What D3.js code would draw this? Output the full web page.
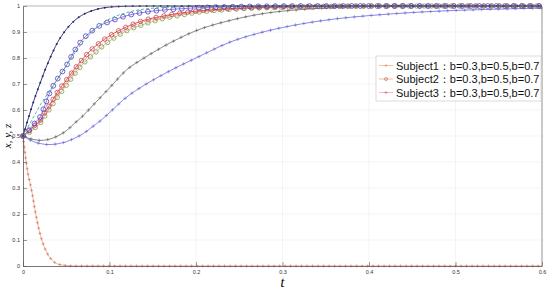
<!DOCTYPE html>
<html>
<head>
<meta charset="utf-8">
<script src="https://cdn.jsdelivr.net/npm/d3@7"></script>
<style>
  body { margin: 0; background: #fff; }
  svg { display: block; }
  .tick text { font-family: "Liberation Sans", Arial, sans-serif; font-size: 5.5px; fill: #333; }
</style>
</head>
<body>
<div id="chart"></div>
<script>
// 時間取樣點
const tGrid = [0, 0.005, 0.01, 0.015, 0.02, 0.025, 0.03, 0.04, 0.05, 0.06, 0.07, 0.08, 0.09, 0.1,
  0.12, 0.14, 0.16, 0.18, 0.2, 0.24, 0.28, 0.32, 0.36, 0.4, 0.45, 0.5, 0.55, 0.6];

// 各曲線數值
const navyDots = [0.5, 0.555, 0.61, 0.66, 0.705, 0.75, 0.79, 0.86, 0.91, 0.945, 0.968, 0.982, 0.991, 0.996,
  0.999, 1, 1, 1, 1, 1, 1, 1, 1, 1, 1, 1, 1, 1];
const greenDash = [0.5, 0.53, 0.56, 0.59, 0.62, 0.645, 0.67, 0.72, 0.77, 0.82, 0.865, 0.9, 0.93, 0.95,
  0.975, 0.988, 0.994, 0.997, 0.999, 1, 1, 1, 1, 1, 1, 1, 1, 1];
const purpleCircles = [0.5, 0.515, 0.535, 0.555, 0.575, 0.615, 0.66, 0.72, 0.77, 0.83, 0.875, 0.905, 0.927, 0.94,
  0.963, 0.976, 0.984, 0.989, 0.993, 0.997, 0.999, 1, 1, 1, 1, 1, 1, 1];
const redCircles = [0.5, 0.515, 0.53, 0.545, 0.56, 0.59, 0.615, 0.67, 0.715, 0.76, 0.8, 0.835, 0.862, 0.885,
  0.92, 0.945, 0.96, 0.972, 0.98, 0.99, 0.995, 0.997, 0.999, 1, 1, 1, 1, 1];
const pinkDash = [0.5, 0.512, 0.525, 0.54, 0.555, 0.58, 0.605, 0.66, 0.705, 0.75, 0.79, 0.82, 0.85, 0.875,
  0.912, 0.94, 0.955, 0.968, 0.978, 0.988, 0.994, 0.997, 0.999, 1, 1, 1, 1, 1];
const olveCircles = [0.5, 0.51, 0.52, 0.535, 0.55, 0.575, 0.6, 0.65, 0.695, 0.74, 0.78, 0.81, 0.84, 0.865,
  0.905, 0.93, 0.95, 0.963, 0.975, 0.987, 0.993, 0.996, 0.998, 1, 1, 1, 1, 1];
const grayPlus = [0.5, 0.493, 0.488, 0.485, 0.483, 0.484, 0.487, 0.5, 0.52, 0.55, 0.58, 0.615, 0.65, 0.685,
  0.755, 0.8, 0.84, 0.875, 0.905, 0.945, 0.972, 0.986, 0.994, 0.998, 1, 1, 1, 1];
const bluePlus = [0.5, 0.49, 0.482, 0.475, 0.471, 0.468, 0.467, 0.47, 0.478, 0.492, 0.51, 0.535, 0.56, 0.59,
  0.65, 0.695, 0.733, 0.768, 0.8, 0.862, 0.902, 0.93, 0.95, 0.963, 0.975, 0.983, 0.988, 0.992];
const decay = [0.5, 0.37, 0.29, 0.195, 0.12, 0.07, 0.038, 0.008, 0.002, 0, 0, 0, 0, 0,
  0, 0, 0, 0, 0, 0, 0, 0, 0, 0, 0, 0, 0, 0];

const xTicks = [0, 0.1, 0.2, 0.3, 0.4, 0.5, 0.6];
const yTicks = [0, 0.1, 0.2, 0.3, 0.4, 0.5, 0.6, 0.7, 0.8, 0.9, 1];

const legendLabels = ["Subject1：b=0.3,b=0.5,b=0.7", "Subject2：b=0.3,b=0.5,b=0.7", "Subject3：b=0.3,b=0.5,b=0.7"];

const series = [
  { values: decay, color: "#eab39a", marker: "plus", mcolor: "#d9705a", gap: 5.5, msize: 1.5 },
  { values: bluePlus, color: "#7b7be6", marker: "plus", mcolor: "#6a6ad8", gap: 8.5, msize: 1.7 },
  { values: grayPlus, color: "#7a7a7a", marker: "plus", mcolor: "#666", gap: 8.5, msize: 1.7 },
  { values: olveCircles, color: "#d9b07a", marker: "circle", mcolor: "#7aa04a", gap: 7.5, msize: 2.2 },
  { values: pinkDash, color: "#ff77cc", dash: "3,2", marker: null },
  { values: redCircles, color: "#e8403a", marker: "circle", mcolor: "#c0504a", gap: 8, msize: 2.2 },
  { values: purpleCircles, color: "#8a6ae0", marker: "circle", mcolor: "#4a40c8", gap: 8.5, msize: 2.4 },
  { values: greenDash, color: "#3cb878", dash: "3,2", marker: null },
  { values: navyDots, color: "#22266e", marker: "dot", mcolor: "#22266e", gap: 7, msize: 1 }
];

const W = 550, H = 291;
const svg = d3.select("#chart").append("svg").attr("width", W).attr("height", H);

const x = d3.scaleLinear().domain([0, 0.6]).range([23, 542]);
const y = d3.scaleLinear().domain([0, 1]).range([266, 6]);

// 網格
svg.append("g").selectAll("line").data(xTicks.slice(1, -1)).join("line")
  .attr("x1", (d) => x(d)).attr("x2", (d) => x(d))
  .attr("y1", y(0)).attr("y2", y(1))
  .attr("stroke", "#ececec").attr("stroke-width", 0.6);
svg.append("g").selectAll("line").data(yTicks.slice(1, -1)).join("line")
  .attr("x1", x(0)).attr("x2", x(0.6))
  .attr("y1", (d) => y(d)).attr("y2", (d) => y(d))
  .attr("stroke", "#ececec").attr("stroke-width", 0.6);

// 曲線
const line = d3.line()
  .x((d, i) => x(tGrid[i]))
  .y((d) => y(d))
  .curve(d3.curveMonotoneX);

const lineG = svg.append("g");
series.forEach((s) => {
  const path = lineG.append("path")
    .attr("d", line(s.values))
    .attr("fill", "none")
    .attr("stroke", s.color)
    .attr("stroke-width", 0.9)
    .attr("stroke-dasharray", s.dash || null);
  if (!s.marker) return;
  const node = path.node();
  const len = node.getTotalLength();
  const pts = d3.range(0, len, s.gap).map((l) => node.getPointAtLength(l));
  const mg = lineG.append("g");
  pts.forEach((p) => {
    if (s.marker === "circle") {
      mg.append("circle").attr("cx", p.x).attr("cy", p.y).attr("r", s.msize)
        .attr("fill", "none").attr("stroke", s.mcolor).attr("stroke-width", 0.8);
    } else if (s.marker === "dot") {
      mg.append("circle").attr("cx", p.x).attr("cy", p.y).attr("r", s.msize).attr("fill", s.mcolor);
    } else {
      mg.append("path")
        .attr("d", `M${p.x - s.msize},${p.y}H${p.x + s.msize}M${p.x},${p.y - s.msize}V${p.y + s.msize}`)
        .attr("stroke", s.mcolor).attr("stroke-width", 0.6);
    }
  });
});

// 座標軸
const xAxis = svg.append("g")
  .attr("transform", `translate(0,${y(0)})`)
  .call(d3.axisBottom(x).tickValues(xTicks).tickFormat(d3.format("~g")).tickSizeInner(-4).tickSizeOuter(0).tickPadding(4));
const yAxis = svg.append("g")
  .attr("transform", `translate(${x(0)},0)`)
  .call(d3.axisLeft(y).tickValues(yTicks).tickFormat(d3.format("~g")).tickSizeInner(-4).tickSizeOuter(0).tickPadding(3));
[xAxis, yAxis].forEach((a) => {
  a.select(".domain").attr("stroke", "#555").attr("stroke-width", 0.8);
  a.selectAll(".tick line").attr("stroke", "#555").attr("stroke-width", 0.6);
});

// 邊框
svg.append("line").attr("x1", x(0)).attr("x2", x(0.6)).attr("y1", y(1)).attr("y2", y(1))
  .attr("stroke", "#888").attr("stroke-width", 0.6);
svg.append("line").attr("x1", x(0.6)).attr("x2", x(0.6)).attr("y1", y(1)).attr("y2", y(0))
  .attr("stroke", "#777").attr("stroke-width", 0.8);

// 軸標題
svg.append("text")
  .attr("x", x(0.3)).attr("y", 287)
  .attr("text-anchor", "middle")
  .style("font-family", "'Liberation Serif', 'DejaVu Serif', serif")
  .style("font-style", "italic")
  .style("font-size", "14px")
  .text("t");
svg.append("text")
  .attr("transform", `translate(11,${y(0.5)}) rotate(-90)`)
  .attr("text-anchor", "middle")
  .style("font-family", "'Liberation Serif', 'DejaVu Serif', serif")
  .style("font-style", "italic")
  .style("font-size", "11px")
  .text("x, y, z");

// 圖例
const legend = svg.append("g").attr("transform", "translate(376,56)");
legend.append("rect").attr("width", 165).attr("height", 45)
  .attr("fill", "#fff").attr("stroke", "#ccc").attr("stroke-width", 0.7);
const legendStyle = [
  { color: "#f0b89c", mcolor: "#e08a70", marker: "plus" },
  { color: "#f0a880", mcolor: "#c07050", marker: "circle" },
  { color: "#f4a0b4", mcolor: "#e05070", marker: "plus" }
];
legendLabels.forEach((label, i) => {
  const row = legend.append("g").attr("transform", `translate(0,${9.5 + i * 13.5})`);
  const st = legendStyle[i];
  row.append("line").attr("x1", 3).attr("x2", 17).attr("stroke", st.color).attr("stroke-width", 0.8);
  if (st.marker === "circle") {
    row.append("circle").attr("cx", 10).attr("r", 1.5).attr("fill", "none").attr("stroke", st.mcolor).attr("stroke-width", 0.7);
  } else {
    row.append("path").attr("d", "M8.5,0H11.5M10,-1.5V1.5").attr("stroke", st.mcolor).attr("stroke-width", 0.6);
  }
  row.append("text").attr("x", 20).attr("y", 4)
    .style("font-family", "'Liberation Sans', Arial, sans-serif")
    .style("font-size", "11px")
    .attr("fill", "#111")
    .text(label);
});
</script>
</body>
</html>
